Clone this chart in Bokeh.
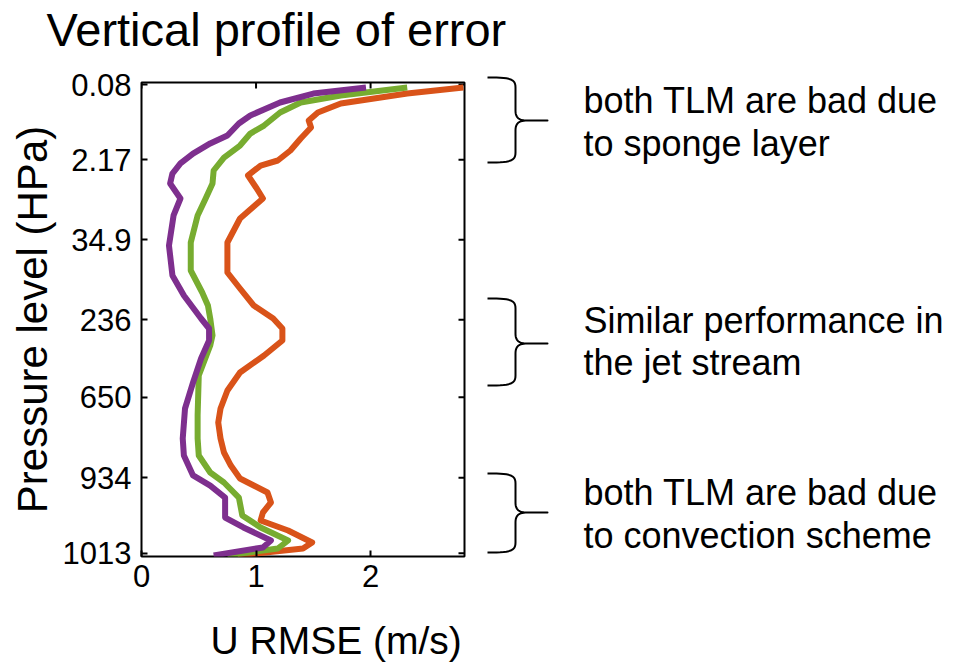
import numpy as np
from bokeh.plotting import figure
from bokeh.models import Range1d, FixedTicker, Title
from bokeh.layouts import column, row
from bokeh.core.properties import value
from bokeh.embed import file_html
from bokeh.resources import INLINE

FONT = "Liberation Sans"

# ---------------- data ----------------
# x: U RMSE (m/s); y: vertical position on the model-level axis (0 = top)
purple_rmse = [1.96, 1.50, 1.21, 0.95, 0.85, 0.75, 0.60, 0.45, 0.34, 0.27,
               0.25, 0.34, 0.28, 0.24, 0.27, 0.37, 0.52, 0.59, 0.59, 0.52,
               0.45, 0.38, 0.36, 0.37, 0.45, 0.60, 0.73, 0.73, 0.89, 1.13,
               1.06, 0.63]
purple_level = [0.62, 1.38, 2.5, 4.12, 5.12, 6.62, 7.62, 8.88, 10.12, 11.38,
                12.62, 14.5, 16.62, 20.38, 24.12, 26.62, 29.5, 30.75, 32.25, 34.5,
                37.5, 40.75, 44.5, 46.62, 49.12, 50.38, 51.88, 54.38, 55.62, 57.25,
                58.12, 59.12]

green_rmse = [2.32, 1.74, 1.39, 1.21, 1.07, 0.95, 0.86, 0.72, 0.63, 0.62,
              0.56, 0.49, 0.43, 0.43, 0.53, 0.58, 0.60, 0.62, 0.60, 0.50,
              0.49, 0.49, 0.50, 0.60, 0.72, 0.85, 0.88, 1.04, 1.28, 1.19,
              0.75]
green_level = [0.62, 1.62, 2.5, 3.75, 5.38, 6.38, 7.88, 9.38, 11.0, 12.62,
               14.5, 16.62, 20.0, 23.5, 26.25, 27.88, 29.5, 31.62, 32.88, 36.62,
               41.62, 44.5, 46.62, 48.75, 50.0, 51.88, 54.12, 55.62, 57.25, 58.25,
               59.12]

orange_rmse = [2.81, 2.32, 1.74, 1.54, 1.46, 1.48, 1.39, 1.30, 1.19, 1.04,
               0.93, 1.00, 1.06, 0.86, 0.75, 0.75, 0.86, 0.98, 1.15, 1.23,
               1.23, 1.07, 0.86, 0.75, 0.69, 0.67, 0.69, 0.72, 0.78, 0.86,
               0.98, 1.10, 1.13, 1.06, 1.04, 1.28, 1.49, 1.41, 0.84]
orange_level = [0.62, 1.38, 2.62, 3.75, 4.75, 5.62, 7.0, 8.5, 9.75, 10.38,
                11.62, 13.12, 14.5, 17.0, 20.0, 23.75, 25.75, 27.88, 29.5, 30.75,
                32.25, 34.12, 36.25, 38.5, 40.75, 42.5, 44.5, 46.25, 47.88, 49.5,
                50.38, 51.25, 52.5, 53.75, 54.75, 56.0, 57.5, 58.25, 59.12]

x_ticks = [0, 1, 2]
level_ticks = [0.25, 9.66, 19.66, 29.66, 39.33, 49.4, 58.84]
pressure_labels = ["0.08", "2.17", "34.9", "236", "650", "934", "1013"]

title_text = "Vertical profile of error"
x_label = "U RMSE (m/s)"
y_label = "Pressure level (HPa)"

note_lines = ["both TLM are bad due", "to sponge layer",
              "Similar performance in", "the jet stream",
              "both TLM are bad due", "to convection scheme"]

# ---------------- layout constants (page pixels) ----------------
W, H = 968, 663
TOP_H = 65                 # title strip height
LEFT_W = 485               # width of the chart panel
FL, FT, FW, FH = 141, 82, 323, 474
X_MAX = 2.82
Y_MAX = 59.25

COLORS = {"orange": "#D95319", "green": "#77AC30", "purple": "#7E2F8E"}


def bare(fig):
    fig.xgrid.visible = False
    fig.ygrid.visible = False
    fig.outline_line_color = None
    fig.background_fill_color = "white"
    fig.border_fill_color = "white"
    return fig


# ---------------- title strip ----------------
top = bare(figure(width=W, height=TOP_H, x_range=Range1d(0, W), y_range=Range1d(TOP_H, 0),
                  min_border=0, x_axis_location=None, y_axis_location=None,
                  frame_align=False,
                  output_backend="svg", toolbar_location=None))
top.text(x=[46], y=[29], text=[title_text], text_font=value(FONT),
         text_font_size=value("47px"), text_color="black",
         text_align="left", text_baseline="middle")

# ---------------- main chart ----------------
p = figure(frame_width=FW, frame_height=FH,
           min_border_left=FL, min_border_right=LEFT_W - FL - FW,
           min_border_top=FT - TOP_H, min_border_bottom=H - FT - FH,
           x_range=Range1d(0, X_MAX), y_range=Range1d(Y_MAX, 0),
           frame_align=False,
           output_backend="svg", toolbar_location=None)
p.background_fill_color = "white"
p.border_fill_color = "white"
p.outline_line_color = "black"
p.outline_line_width = 2
p.xgrid.visible = False
p.ygrid.visible = False

p.xaxis.ticker = FixedTicker(ticks=x_ticks)
p.yaxis.ticker = FixedTicker(ticks=level_ticks)
p.yaxis.major_label_overrides = {t: l for t, l in zip(level_ticks, pressure_labels)}

for ax in p.xaxis + p.yaxis:
    ax.axis_line_color = None
    ax.major_tick_in = 6
    ax.major_tick_out = 0
    ax.minor_tick_in = 0
    ax.minor_tick_out = 0
    ax.major_tick_line_color = "black"
    ax.major_tick_line_width = 2
    ax.major_label_text_font = FONT
    ax.major_label_text_font_size = "31px"
    ax.major_label_text_color = "black"

p.xaxis.major_label_standoff = 8
p.yaxis.major_label_standoff = 10
p.yaxis.axis_label = y_label
p.yaxis.axis_label_text_font = FONT
p.yaxis.axis_label_text_font_size = "42px"
p.yaxis.axis_label_text_font_style = "normal"
p.yaxis.axis_label_text_color = "black"
p.yaxis.axis_label_standoff = 4

p.add_layout(Title(text=x_label, align="left", offset=69, vertical_align="top",
                   standoff=58, text_font=FONT, text_font_size="39px",
                   text_font_style="normal", text_color="black"), "below")

# inward ticks on the top and right sides of the box
tlx = 6 * X_MAX / FW
tly = 6 * Y_MAX / FH
p.segment(x0=x_ticks, y0=[0] * len(x_ticks), x1=x_ticks, y1=[tly] * len(x_ticks),
          line_color="black", line_width=2)
p.segment(x0=[X_MAX] * len(level_ticks), y0=level_ticks,
          x1=[X_MAX - tlx] * len(level_ticks), y1=level_ticks,
          line_color="black", line_width=2)

p.line(orange_rmse, orange_level, line_color=COLORS["orange"], line_width=6, line_join="round")
p.line(green_rmse, green_level, line_color=COLORS["green"], line_width=6, line_join="round")
p.line(purple_rmse, purple_level, line_color=COLORS["purple"], line_width=6, line_join="round")

# ---------------- notes panel (page-pixel coordinates) ----------------
RW = W - LEFT_W
RH = H - TOP_H
q = bare(figure(width=RW, height=RH, x_range=Range1d(LEFT_W, W), y_range=Range1d(H, TOP_H),
                min_border=0, x_axis_location=None, y_axis_location=None,
                frame_align=False,
                output_backend="svg", toolbar_location=None))

note_y = [100, 143, 320, 362, 492, 535]
q.text(x=[583] * len(note_lines), y=note_y, text=note_lines, text_font=value(FONT),
       text_font_size=value("36px"), text_color="black",
       text_align="left", text_baseline="middle")


def cubic(p0, p1, p2, p3, n=14):
    t = np.linspace(0, 1, n)[:, None]
    p0, p1, p2, p3 = map(np.array, (p0, p1, p2, p3))
    return ((1 - t) ** 3 * p0 + 3 * (1 - t) ** 2 * t * p1
            + 3 * (1 - t) * t ** 2 * p2 + t ** 3 * p3)


def brace(top_y, mid, bot, x0=487, xv=515, xt=547):
    pts = []
    pts += list(cubic((x0, top_y), (x0 + 22, top_y), (xv, top_y + 1), (xv, top_y + 10)))
    pts += list(cubic((xv, mid - 10), (xv, mid - 3), (xv + 3, mid), (xv + 12, mid)))
    pts.append(np.array((xt, mid)))
    pts.append(np.array((xv + 12, mid)))
    pts += list(cubic((xv + 12, mid), (xv + 3, mid), (xv, mid + 3), (xv, mid + 10)))
    pts += list(cubic((xv, bot - 10), (xv, bot - 1), (x0 + 22, bot), (x0, bot)))
    return [pt[0] for pt in pts], [pt[1] for pt in pts]


for t_y, m_y, b_y in [(77, 120, 162), (298, 343, 385), (473, 512, 552)]:
    bx, by = brace(t_y, m_y, b_y)
    q.line(bx, by, line_color="black", line_width=2, line_join="round")

layout = column(top, row(p, q, spacing=0), spacing=0)
open("out.html", "w").write(file_html(layout, INLINE))
